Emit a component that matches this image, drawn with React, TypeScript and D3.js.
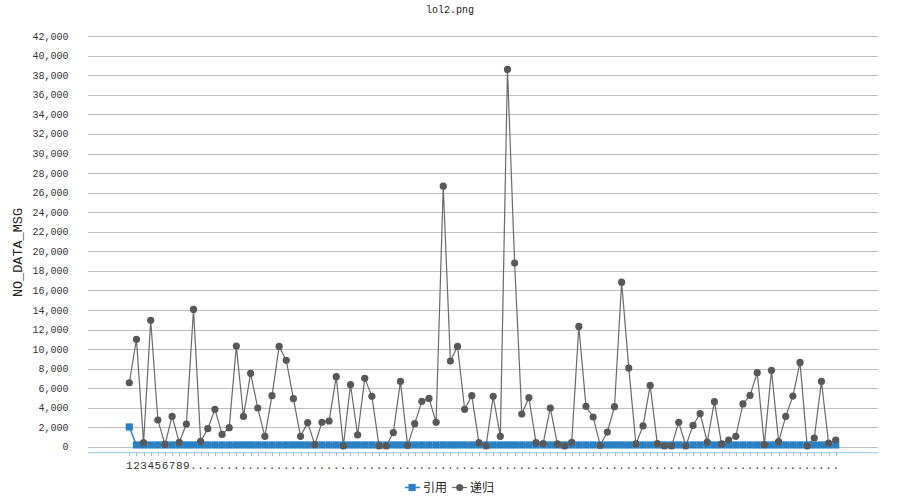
import React, { useEffect, useRef } from 'react';
import * as d3 from 'd3';

// chart data
const title = 'lol2.png';
const yTitle = 'NO_DATA_MSG';
const seriesNames = ['引用', '递归'];
const categories = d3.range(1, 101).map(String);

// 引用 (blue)
const quoteValues = [
  2040, 200, 200, 200, 200, 200, 200, 200, 200, 200,
  200, 200, 200, 200, 200, 200, 200, 200, 200, 200,
  200, 200, 200, 200, 200, 200, 200, 200, 200, 200,
  200, 200, 200, 200, 200, 200, 200, 200, 200, 200,
  200, 200, 200, 200, 200, 200, 200, 200, 200, 200,
  200, 200, 200, 200, 200, 200, 200, 200, 200, 200,
  200, 200, 200, 200, 200, 200, 200, 200, 200, 200,
  200, 200, 200, 200, 200, 200, 200, 200, 200, 200,
  200, 200, 200, 200, 200, 200, 200, 200, 200, 200,
  200, 200, 200, 200, 200, 200, 200, 200, 200, 200,
];

// 递归 (gray)
const recurValues = [
  6560, 11000, 430, 12950, 2750, 250, 3120, 470, 2340, 14060,
  570, 1860, 3840, 1280, 1970, 10310, 3120, 7520, 3980, 1080,
  5240, 10280, 8850, 4930, 1080, 2480, 230, 2510, 2650, 7180,
  100, 6360, 1220, 7010, 5170, 100, 100, 1460, 6700, 160,
  2380, 4660, 4960, 2510, 26660, 8780, 10280, 3840, 5240, 430,
  100, 5170, 1080, 38600, 18800, 3360, 5030, 430, 330, 3980,
  300, 100, 470, 12320, 4150, 3060, 160, 1520, 4110, 16850,
  8060, 300, 2140, 6290, 330, 100, 100, 2510, 100, 2200,
  3400, 500, 4620, 300, 700, 1080, 4390, 5270, 7590, 230,
  7830, 540, 3120, 5200, 8640, 100, 910, 6700, 400, 700,
];

const yTicks = d3.range(0, 42001, 2000);

const BLUE = '#2a80c2';
const GRAY = '#58585b';

const App = () => {
  const ref = useRef<SVGSVGElement>(null);

  useEffect(() => {
    const svg = d3.select(ref.current);
    svg.selectAll('*').remove();

    const x = d3.scalePoint<string>().domain(categories).range([129.3, 835.7]);
    const y = d3.scaleLinear().domain([0, 42000]).range([446.9, 36.2]);
    const plotLeft = 88;
    const plotRight = 878;
    const axisY = y(0) + 5.8;
    const mono = "'Liberation Mono', 'DejaVu Sans Mono', monospace";

    // title
    svg.append('text')
      .attr('x', 450).attr('y', 13)
      .attr('text-anchor', 'middle')
      .style('font-family', mono).style('font-size', '10px')
      .style('fill', '#222')
      .text(title);

    // gridlines
    svg.append('g')
      .selectAll('line')
      .data(yTicks)
      .join('line')
      .attr('x1', plotLeft).attr('x2', plotRight)
      .attr('y1', (d) => Math.round(y(d)) + 0.5)
      .attr('y2', (d) => Math.round(y(d)) + 0.5)
      .attr('stroke', '#bdbdbd').attr('stroke-width', 1);

    // y tick labels
    svg.append('g')
      .selectAll('text')
      .data(yTicks)
      .join('text')
      .attr('x', 68.5)
      .attr('y', (d) => y(d))
      .attr('dy', '0.35em')
      .attr('text-anchor', 'end')
      .style('font-family', mono).style('font-size', '10px')
      .style('fill', '#333')
      .text((d) => d3.format(',')(d));

    // y title
    svg.append('text')
      .attr('transform', `translate(22,${(y(0) + y(42000)) / 2 + 11}) rotate(-90)`)
      .attr('text-anchor', 'middle')
      .style('font-family', mono).style('font-size', '13.5px')
      .style('fill', '#222')
      .text(yTitle);

    // x axis line and ticks
    svg.append('line')
      .attr('x1', plotLeft).attr('x2', plotRight)
      .attr('y1', axisY).attr('y2', axisY)
      .attr('stroke', '#8cc2e6').attr('stroke-width', 1);
    svg.append('g')
      .selectAll('line')
      .data(categories)
      .join('line')
      .attr('x1', (d) => Math.round(x(d)!) + 0.5)
      .attr('x2', (d) => Math.round(x(d)!) + 0.5)
      .attr('y1', axisY).attr('y2', axisY + 3.5)
      .attr('stroke', '#8cc2e6').attr('stroke-width', 1);

    // x labels: only single-char labels fit, the rest get truncated to a dot
    svg.append('g')
      .selectAll('text')
      .data(categories)
      .join('text')
      .attr('x', (d) => x(d)!)
      .attr('y', axisY + 16)
      .attr('text-anchor', 'middle')
      .style('font-family', mono).style('font-size', '11px')
      .style('fill', '#333')
      .text((d) => (d.length === 1 ? d : '.'));

    // gray series
    const recurData = recurValues.map((v, i) => ({ c: categories[i], v }));
    const quoteData = quoteValues.map((v, i) => ({ c: categories[i], v }));
    const line = d3.line<{ c: string; v: number }>()
      .x((d) => x(d.c)!)
      .y((d) => y(d.v));

    svg.append('path')
      .datum(recurData)
      .attr('d', line)
      .attr('fill', 'none')
      .attr('stroke', '#6a6a6c').attr('stroke-width', 1.2);

    // blue series
    svg.append('path')
      .datum(quoteData)
      .attr('d', line)
      .attr('fill', 'none')
      .attr('stroke', BLUE).attr('stroke-width', 1.5);
    svg.append('g')
      .selectAll('rect')
      .data(quoteData)
      .join('rect')
      .attr('x', (d) => x(d.c)! - 3.6)
      .attr('y', (d) => y(d.v) - 3.6)
      .attr('width', 7.2).attr('height', 7.2)
      .attr('fill', BLUE);

    svg.append('g')
      .selectAll('circle')
      .data(recurData)
      .join('circle')
      .attr('cx', (d) => x(d.c)!)
      .attr('cy', (d) => y(d.v))
      .attr('r', 3.6)
      .attr('fill', GRAY);

    // legend
    const legendY = 487.5;
    const lg = svg.append('g').style('font-family', "'Noto Sans CJK SC', sans-serif").style('font-size', '12px');
    lg.append('line').attr('x1', 405).attr('x2', 420).attr('y1', legendY).attr('y2', legendY)
      .attr('stroke', BLUE).attr('stroke-width', 1.5);
    lg.append('rect').attr('x', 408.5).attr('y', legendY - 3.6).attr('width', 7.2).attr('height', 7.2).attr('fill', BLUE);
    lg.append('text').attr('x', 423).attr('y', legendY).attr('dy', '0.36em').style('fill', '#222').text(seriesNames[0]);
    lg.append('line').attr('x1', 452).attr('x2', 467).attr('y1', legendY).attr('y2', legendY)
      .attr('stroke', '#6a6a6c').attr('stroke-width', 1.2);
    lg.append('circle').attr('cx', 459.7).attr('cy', legendY).attr('r', 3.6).attr('fill', GRAY);
    lg.append('text').attr('x', 470).attr('y', legendY).attr('dy', '0.36em').style('fill', '#222').text(seriesNames[1]);
  }, []);

  return (
    <svg
      ref={ref}
      width={900}
      height={500}
      style={{ position: 'absolute', left: 0, top: 0, background: '#fff' }}
    />
  );
};

export default App;
